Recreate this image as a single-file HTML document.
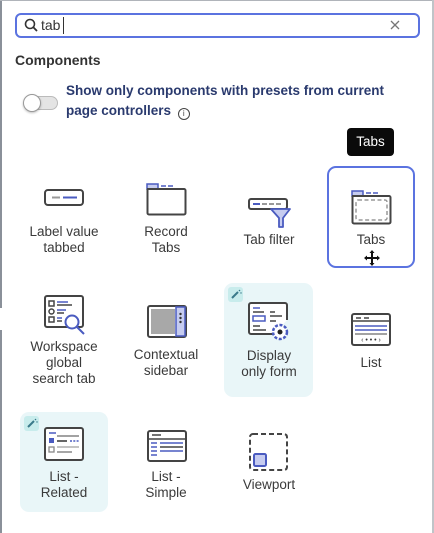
<!DOCTYPE html>
<html><head><meta charset="utf-8"><style>
*{margin:0;padding:0;box-sizing:border-box}
body{width:434px;height:533px;background:#fff;position:relative;overflow:hidden;font-family:"Liberation Sans",sans-serif;color:#333}
.a{position:absolute}
.lbl{position:absolute;font-size:13.5px;text-align:center;width:100px;line-height:16px;color:#3a3a3a}
svg{position:absolute;overflow:visible}
</style></head><body>
<div class="a" style="left:0;top:0;width:2px;height:308px;background:#8a9099"></div>
<div class="a" style="left:0;top:330px;width:2px;height:203px;background:#8a9099"></div>
<div class="a" style="left:0;top:0;width:434px;height:1px;background:#b0b4ba"></div>
<div class="a" style="left:432px;top:0;width:2px;height:533px;background:#c0c4c8"></div>

<div class="a" style="left:15px;top:13px;width:405px;height:25px;border:2px solid #5b73e0;border-radius:6px"></div>
<svg style="left:24px;top:18px" width="14" height="14"><circle cx="6" cy="6" r="4.5" fill="none" stroke="#333" stroke-width="1.6"/><line x1="9.3" y1="9.3" x2="13" y2="13" stroke="#333" stroke-width="1.8"/></svg>
<div class="a" style="left:41px;top:17px;font-size:14px;color:#333">tab</div>
<div class="a" style="left:63px;top:17px;width:1px;height:17px;background:#333"></div>
<svg style="left:390px;top:20px" width="10" height="10"><path d="M1 1L9 9M9 1L1 9" stroke="#777" stroke-width="1.3"/></svg>

<div class="a" style="left:15px;top:52px;font-size:14px;font-weight:bold;color:#333">Components</div>
<div class="a" style="left:25px;top:96px;width:33px;height:14px;border-radius:7px;background:#e4e4e4;border:1px solid #bbb"></div>
<div class="a" style="left:23px;top:94px;width:18px;height:18px;border-radius:50%;background:#fff;border:1px solid #999;box-shadow:0 1px 2px rgba(0,0,0,.25)"></div>
<div class="a" style="left:66px;top:81px;font-size:13.5px;font-weight:bold;color:#2a3a6e;line-height:19.5px;width:360px">Show only components with presets from current<br>page controllers <span style="display:inline-block;width:12px;height:12px;border:1.3px solid #444;border-radius:50%;font-size:8px;line-height:10px;text-align:center;vertical-align:-1px;margin-left:3px;color:#444;font-weight:normal">i</span></div>

<div class="a" style="left:347px;top:128px;width:47px;height:28px;background:#0a0a0a;border-radius:4px;color:#fff;font-size:13.5px;text-align:center;line-height:28px">Tabs</div>

<div class="a" style="left:327px;top:166px;width:88px;height:102px;border:2px solid #5b73e0;border-radius:9px"></div>
<div class="a" style="left:224px;top:283px;width:89px;height:114px;background:#e9f6f8;border-radius:9px"></div>
<div class="a" style="left:20px;top:412px;width:88px;height:100px;background:#e9f6f8;border-radius:9px"></div>
<div class="a" style="left:228px;top:287px;width:15px;height:15px;background:#c8ecec;border-radius:3px"></div>
<div class="a" style="left:24px;top:416px;width:15px;height:15px;background:#c8ecec;border-radius:3px"></div>
<svg style="left:228px;top:287px" width="15" height="15"><path d="M4 11L10 5" stroke="#3a7a8a" stroke-width="2"/><circle cx="11.5" cy="3.5" r=".8" fill="#3a7a8a"/><circle cx="13" cy="6" r=".7" fill="#3a7a8a"/></svg>
<svg style="left:24px;top:416px" width="15" height="15"><path d="M4 11L10 5" stroke="#3a7a8a" stroke-width="2"/><circle cx="11.5" cy="3.5" r=".8" fill="#3a7a8a"/><circle cx="13" cy="6" r=".7" fill="#3a7a8a"/></svg>

<!-- Row 1 icons -->
<svg style="left:44px;top:189px" width="40" height="18"><rect x="1" y="1" width="38" height="15" rx="3" fill="#fff" stroke="#444" stroke-width="2"/><line x1="8" y1="8.5" x2="16" y2="8.5" stroke="#999" stroke-width="2"/><line x1="19" y1="8.5" x2="33" y2="8.5" stroke="#4a5bc0" stroke-width="2"/></svg>
<svg style="left:146px;top:183px" width="41" height="33"><rect x="1" y="1" width="11" height="5" fill="#c6ccf0" stroke="#4a5bc0" stroke-width="1.5"/><line x1="15" y1="3" x2="20" y2="3" stroke="#4a5bc0" stroke-width="1.5"/><line x1="22" y1="3" x2="27" y2="3" stroke="#4a5bc0" stroke-width="1.5"/><path d="M1 6H38a1.5 1.5 0 0 1 1.5 1.5V30a1.5 1.5 0 0 1-1.5 1.5H3a1.5 1.5 0 0 1-1.5-1.5V6" fill="none" stroke="#444" stroke-width="2"/></svg>
<svg style="left:248px;top:198px" width="43" height="31"><rect x="1" y="1" width="38" height="10" rx="2" fill="#fff" stroke="#444" stroke-width="2"/><line x1="5" y1="6" x2="12" y2="6" stroke="#4a5bc0" stroke-width="2"/><line x1="14" y1="6" x2="34" y2="6" stroke="#999" stroke-width="2" stroke-dasharray="5 2"/><path d="M23 11H42L35 20V29H31V20Z" fill="#c6ccf0" stroke="#4a5bc0" stroke-width="1.8" stroke-linejoin="round"/></svg>
<svg style="left:351px;top:190px" width="41" height="35"><rect x="1" y="1" width="11" height="5" fill="#c6ccf0" stroke="#4a5bc0" stroke-width="1.5"/><line x1="15" y1="3" x2="20" y2="3" stroke="#4a5bc0" stroke-width="1.5"/><line x1="22" y1="3" x2="27" y2="3" stroke="#4a5bc0" stroke-width="1.5"/><path d="M1 6H38a1.5 1.5 0 0 1 1.5 1.5V32a1.5 1.5 0 0 1-1.5 1.5H3a1.5 1.5 0 0 1-1.5-1.5V6" fill="none" stroke="#444" stroke-width="2"/><rect x="5" y="10" width="31" height="20" rx="2" fill="none" stroke="#999" stroke-width="1.5" stroke-dasharray="4 2.5"/></svg>
<svg style="left:364px;top:250px" width="16" height="16"><path d="M8 1V15M1 8H15" stroke="#111" stroke-width="2"/><path d="M8 0L5.5 3H10.5ZM8 16L5.5 13H10.5ZM0 8L3 5.5V10.5ZM16 8L13 5.5V10.5Z" fill="#111"/></svg>

<div class="lbl" style="left:14px;top:224px">Label value<br>tabbed</div>
<div class="lbl" style="left:116px;top:224px">Record<br>Tabs</div>
<div class="lbl" style="left:219px;top:232px">Tab filter</div>
<div class="lbl" style="left:321px;top:232px">Tabs</div>

<!-- Row 2 -->
<svg style="left:44px;top:295px" width="43" height="42"><rect x="1" y="1" width="38" height="31" rx="2" fill="#fff" stroke="#444" stroke-width="2"/><rect x="5" y="6" width="5" height="5" fill="none" stroke="#444" stroke-width="1.5"/><rect x="5" y="14" width="5" height="5" rx="2.5" fill="none" stroke="#444" stroke-width="1.5"/><rect x="5" y="22" width="5" height="5" fill="none" stroke="#444" stroke-width="1.5"/><line x1="13" y1="7" x2="24" y2="7" stroke="#4a5bc0" stroke-width="1.5"/><line x1="13" y1="10" x2="28" y2="10" stroke="#444" stroke-width="1.5"/><line x1="13" y1="15" x2="22" y2="15" stroke="#4a5bc0" stroke-width="1.5"/><line x1="13" y1="18" x2="20" y2="18" stroke="#444" stroke-width="1.5"/><line x1="13" y1="23" x2="18" y2="23" stroke="#4a5bc0" stroke-width="1.5"/><line x1="13" y1="26" x2="18" y2="26" stroke="#444" stroke-width="1.5"/><circle cx="28" cy="27" r="6.5" fill="#fff" stroke="#4a5bc0" stroke-width="2"/><line x1="33" y1="32" x2="40" y2="39" stroke="#4a5bc0" stroke-width="2"/></svg>
<svg style="left:147px;top:305px" width="40" height="34"><rect x="1" y="1" width="38" height="31" rx="2" fill="#fff" stroke="#444" stroke-width="2"/><rect x="4" y="4" width="24" height="25" fill="#a8a8a8"/><rect x="29" y="2" width="9" height="29" fill="#c6ccf0" stroke="#4a5bc0" stroke-width="1.5"/><circle cx="33.5" cy="9" r="1.2" fill="#333"/><circle cx="33.5" cy="13" r="1.2" fill="#333"/><circle cx="33.5" cy="17" r="1.2" fill="#333"/></svg>
<svg style="left:248px;top:302px" width="43" height="41"><path d="M26 32H3a2 2 0 0 1-2-2V3a2 2 0 0 1 2-2H37a2 2 0 0 1 2 2V18" fill="#fff" stroke="#444" stroke-width="2"/><line x1="5" y1="6" x2="12" y2="6" stroke="#4a5bc0" stroke-width="1.5"/><line x1="5" y1="10" x2="16" y2="10" stroke="#444" stroke-width="1.5"/><line x1="22" y1="10" x2="27" y2="10" stroke="#444" stroke-width="1.5"/><line x1="22" y1="14" x2="34" y2="14" stroke="#444" stroke-width="1.5"/><rect x="5" y="14" width="12" height="5" fill="none" stroke="#4a5bc0" stroke-width="1.5"/><line x1="22" y1="19" x2="28" y2="19" stroke="#444" stroke-width="1.5"/><line x1="5" y1="24" x2="12" y2="24" stroke="#444" stroke-width="1.5"/><line x1="5" y1="28" x2="18" y2="28" stroke="#444" stroke-width="1.5"/><circle cx="32" cy="30" r="7" fill="#fff" stroke="#4a5bc0" stroke-width="2.5" stroke-dasharray="3 1.6"/><circle cx="32" cy="30" r="2.5" fill="#222"/></svg>
<svg style="left:351px;top:313px" width="41" height="34"><rect x="1" y="1" width="38" height="31" rx="2" fill="#fff" stroke="#444" stroke-width="2"/><line x1="1" y1="8" x2="39" y2="8" stroke="#444" stroke-width="1.5"/><line x1="5" y1="5" x2="10" y2="5" stroke="#444" stroke-width="1.5"/><line x1="13" y1="5" x2="18" y2="5" stroke="#444" stroke-width="1.5"/><line x1="4" y1="13" x2="36" y2="13" stroke="#4a5bc0" stroke-width="1.5"/><line x1="4" y1="17" x2="36" y2="17" stroke="#4a5bc0" stroke-width="1.5"/><line x1="4" y1="21" x2="36" y2="21" stroke="#444" stroke-width="1"/><text x="20" y="29" font-size="7" text-anchor="middle" fill="#333" font-family="Liberation Sans">‹ • • • ›</text></svg>

<div class="lbl" style="left:14px;top:339px">Workspace<br>global<br>search tab</div>
<div class="lbl" style="left:116px;top:347px">Contextual<br>sidebar</div>
<div class="lbl" style="left:219px;top:348px">Display<br>only form</div>
<div class="lbl" style="left:321px;top:355px">List</div>

<!-- Row 3 -->
<svg style="left:44px;top:427px" width="41" height="35"><rect x="1" y="1" width="38" height="32" rx="2" fill="#fff" stroke="#444" stroke-width="2"/><line x1="5" y1="6" x2="12" y2="6" stroke="#4a5bc0" stroke-width="1.5"/><rect x="5" y="11" width="5" height="5" fill="#4a5bc0"/><line x1="13" y1="9" x2="35" y2="9" stroke="#444" stroke-width="1"/><line x1="13" y1="14" x2="23" y2="14" stroke="#333" stroke-width="1.5"/><line x1="26" y1="14" x2="35" y2="14" stroke="#4a5bc0" stroke-width="1.5" stroke-dasharray="2 1.3"/><rect x="5" y="20" width="5" height="5" fill="none" stroke="#888" stroke-width="1.3"/><line x1="13" y1="20" x2="35" y2="20" stroke="#888" stroke-width="1"/><line x1="13" y1="25" x2="28" y2="25" stroke="#888" stroke-width="1.5"/></svg>
<svg style="left:147px;top:430px" width="40" height="32"><rect x="1" y="1" width="38" height="30" rx="2" fill="#fff" stroke="#444" stroke-width="2"/><line x1="5" y1="5" x2="14" y2="5" stroke="#444" stroke-width="1.5"/><line x1="1" y1="9" x2="39" y2="9" stroke="#444" stroke-width="1.5"/><line x1="4" y1="13" x2="10" y2="13" stroke="#4a5bc0" stroke-width="1.5"/><line x1="13" y1="13" x2="36" y2="13" stroke="#4a5bc0" stroke-width="1.5"/><line x1="4" y1="17" x2="10" y2="17" stroke="#4a5bc0" stroke-width="1.5"/><line x1="13" y1="17" x2="36" y2="17" stroke="#444" stroke-width="1.5"/><line x1="4" y1="21" x2="10" y2="21" stroke="#4a5bc0" stroke-width="1.5"/><line x1="13" y1="21" x2="36" y2="21" stroke="#4a5bc0" stroke-width="1.5"/><line x1="4" y1="25" x2="10" y2="25" stroke="#4a5bc0" stroke-width="1.5"/></svg>
<svg style="left:249px;top:433px" width="40" height="39"><rect x="1" y="1" width="37" height="36" rx="3" fill="none" stroke="#444" stroke-width="2" stroke-dasharray="5 3"/><rect x="5" y="21" width="12" height="12" rx="1.5" fill="#c6ccf0" stroke="#4a5bc0" stroke-width="2"/></svg>

<div class="lbl" style="left:14px;top:469px">List -<br>Related</div>
<div class="lbl" style="left:116px;top:469px">List -<br>Simple</div>
<div class="lbl" style="left:219px;top:477px">Viewport</div>
</body></html>
